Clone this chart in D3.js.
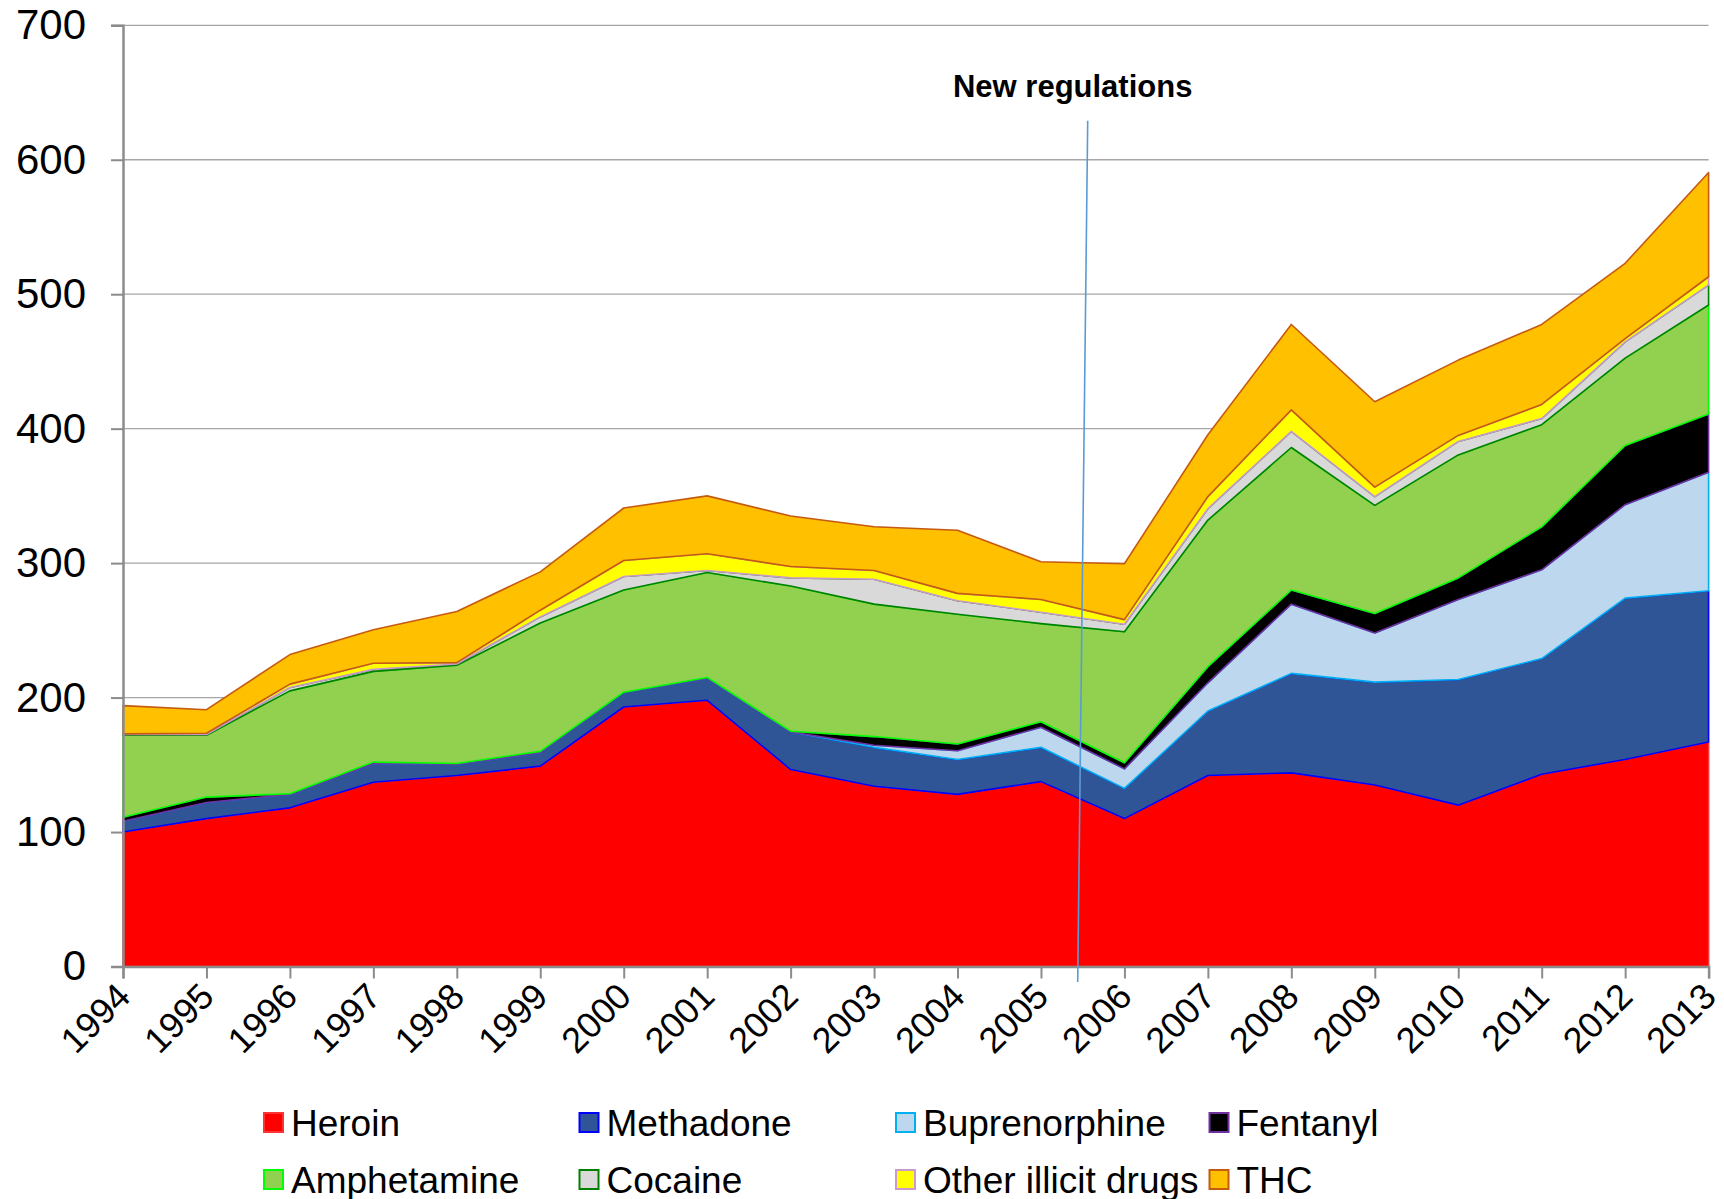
<!DOCTYPE html>
<html>
<head>
<meta charset="utf-8">
<script src="https://cdn.jsdelivr.net/npm/d3@7"></script>
<style>
  body { margin: 0; background: #fff; }
  svg { display: block; font-family: "Liberation Sans", Arial, sans-serif; }
</style>
</head>
<body>
<svg id="drawing_region"></svg>
<script>
// values (deaths per year, stacked)
const years = [1994,1995,1996,1997,1998,1999,2000,2001,2002,2003,2004,2005,2006,2007,2008,2009,2010,2011,2012,2013]
const heroin        = [100,110,118,137,142,149,193,198,146.5,134,128,137.5,110,142,144,135,120,143,154,167]
const methadone     = [8,12,10,14,8.5,10,11,16.5,28,29,26,25.5,22.5,48,74,76.5,93.5,86,120,112.5]
const buprenorphine = [0,0,0,0,0,0,0,0,0,1.5,6.5,15,14.5,21,51.5,36.5,59.5,66,69.5,88]
const fentanyl      = [3,4,0.5,1,0.5,1,0,0.5,0.5,6.5,5,4,4.5,12,10.5,14.5,16,32,44,43.5]
const amphetamine   = [61,46,76.5,67.5,73,95.5,76,78,108,98.5,96.5,73,97.5,109,106,80.5,91.5,76,65,81]
const cocaine       = [0.5,0.5,2.5,1.5,1,4.5,10,1.5,6,18.5,10,8.5,5.5,8.5,12,6.5,10,4.5,12,15]
const otherIllicit  = [0.5,1,2.5,4.5,1,5,12,12.5,8.5,6.5,5.5,9.5,3.5,9,16,7,4.5,10.5,2.5,6]
const thc           = [21,17.5,22,25,38,28.5,39,43,37.5,32.5,47,28,41.5,46,63.5,63.5,56,59.5,56,77.5]

const seriesNames = ['Heroin','Methadone','Buprenorphine','Fentanyl','Amphetamine','Cocaine','Other illicit drugs','THC']
const seriesValues = [heroin,methadone,buprenorphine,fentanyl,amphetamine,cocaine,otherIllicit,thc]
const fills   = ['#FF0000','#2F5597','#BDD7EE','#000000','#92D050','#D9D9D9','#FFFF00','#FFC000']
const borders = ['#FF3333','#0000FF','#00B0F0','#7030A0','#00FF00','#008000','#CC99CC','#C55A11']

const yTicks = [0,100,200,300,400,500,600,700]

// annotation: slightly slanted line + label, in data units (year, value)
const regLabel = 'New regulations'
const regLine = {x1: 2005.56, y1: 629, x2: 2005.44, y2: -11.5}
const regText = {x: 2005.38, y: 646.5}

class StackedArea{
    constructor(config){
        this.config = {
            parent: config.parent,
            width: config.width || 256,
            height: config.height || 256,
            margin: config.margin || {top: 10, bottom: 10, left: 10, right: 10}
        }
        this.init()
    }

    init(){
        let self = this

        self.svg = d3.select(self.config.parent)
            .attr('width', self.config.width)
            .attr('height', self.config.height)

        self.inner_width = self.config.width - self.config.margin.left - self.config.margin.right
        self.inner_height = self.config.height - self.config.margin.top - self.config.margin.bottom

        self.chart = self.svg.append('g')
            .attr('transform', `translate(${self.config.margin.left},${self.config.margin.top})`)

        self.xscale = d3.scaleLinear().domain([years[0], years[years.length-1]]).range([0, self.inner_width])
        self.yscale = d3.scaleLinear().domain([0, 700]).range([self.inner_height, 0])

        self.grid_group = self.chart.append('g')
        self.area_group = self.chart.append('g')
        self.xaxis_group = self.chart.append('g').attr('transform', `translate(0,${self.inner_height})`)
        self.yaxis_group = self.chart.append('g')
        self.note_group = self.chart.append('g')
        self.legend_group = self.svg.append('g')
    }

    update(){
        let self = this
        self.table = years.map((yr, i) => {
            const row = {year: yr}
            seriesNames.forEach((name, k) => { row[name] = seriesValues[k][i] })
            return row
        })
        self.stacked = d3.stack().keys(seriesNames)(self.table)
        self.render()
    }

    render(){
        let self = this
        const gray = '#8C8C8C'

        // gridlines
        self.grid_group.selectAll('line')
            .data(yTicks.filter(d => d > 0)).enter()
            .append('line')
            .attr('x1', 0)
            .attr('x2', self.inner_width)
            .attr('y1', d => self.yscale(d))
            .attr('y2', d => self.yscale(d))
            .attr('stroke', '#A6A6A6')
            .attr('stroke-width', 1.3)

        const area = d3.area()
            .x(d => self.xscale(d.data.year))
            .y0(d => self.yscale(d[0]))
            .y1(d => self.yscale(d[1]))

        self.area_group.selectAll('path')
            .data(self.stacked).enter()
            .append('path')
            .attr('d', area)
            .attr('fill', (d, i) => fills[i])
            .attr('stroke', (d, i) => borders[i])
            .attr('stroke-width', 1.6)
            .attr('stroke-linejoin', 'round')

        // x axis
        const xaxis = d3.axisBottom(self.xscale)
            .tickValues(years)
            .tickFormat(d3.format('d'))
            .tickSize(12)
        self.xaxis_group.call(xaxis)
        self.xaxis_group.select('.domain').attr('stroke', gray).attr('stroke-width', 2.5)
        self.xaxis_group.selectAll('.tick line').attr('stroke', gray).attr('stroke-width', 2)
        self.xaxis_group.selectAll('.tick text')
            .attr('x', 0).attr('y', 0).attr('dy', 0)
            .attr('text-anchor', 'end')
            .attr('transform', 'translate(9,32) rotate(-45)')
            .attr('font-size', 36)
            .attr('font-family', '"Liberation Sans", Arial, sans-serif')
            .attr('fill', '#000')

        // y axis
        const yaxis = d3.axisLeft(self.yscale)
            .tickValues(yTicks)
            .tickSize(12)
            .tickPadding(25)
        self.yaxis_group.call(yaxis)
        self.yaxis_group.select('.domain').attr('stroke', gray).attr('stroke-width', 2.5)
        self.yaxis_group.selectAll('.tick line').attr('stroke', gray).attr('stroke-width', 2)
        self.yaxis_group.selectAll('.tick text')
            .attr('font-size', 42)
            .attr('font-family', '"Liberation Sans", Arial, sans-serif')
            .attr('fill', '#000')

        // annotation
        self.note_group.append('line')
            .attr('x1', self.xscale(regLine.x1)).attr('y1', self.yscale(regLine.y1))
            .attr('x2', self.xscale(regLine.x2)).attr('y2', self.yscale(regLine.y2))
            .attr('stroke', '#5B9BD5')
            .attr('stroke-width', 1.6)
        self.note_group.append('text')
            .attr('x', self.xscale(regText.x))
            .attr('y', self.yscale(regText.y))
            .attr('text-anchor', 'middle')
            .attr('font-size', 31)
            .attr('font-weight', 'bold')
            .text(regLabel)

        // legend, 2 rows of 4
        const colX = [264, 579.5, 896, 1209.5]
        const rowY = [1123, 1180]
        const items = self.legend_group.selectAll('g')
            .data(seriesNames).enter()
            .append('g')
            .attr('transform', (d, i) => `translate(${colX[i % 4]},${rowY[Math.floor(i / 4)]})`)
        items.append('rect')
            .attr('x', 0).attr('y', -10)
            .attr('width', 19).attr('height', 19)
            .attr('fill', (d, i) => fills[i])
            .attr('stroke', (d, i) => borders[i])
            .attr('stroke-width', 2)
        items.append('text')
            .attr('x', 27)
            .attr('y', 0)
            .attr('dominant-baseline', 'central')
            .attr('font-size', 37)
            .text(d => d)
    }
}

const config = {
    parent: '#drawing_region',
    width: 1724,
    height: 1199,
    margin: {top: 25.3, right: 15.4, bottom: 232.5, left: 123}
}
const chart = new StackedArea(config)
chart.update()
</script>
</body>
</html>
